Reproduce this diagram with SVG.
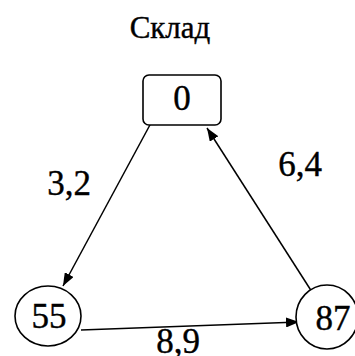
<svg xmlns="http://www.w3.org/2000/svg" width="355" height="356" viewBox="0 0 355 356">
<style>
text{font-family:'Liberation Serif','Times New Roman','DejaVu Serif',serif;fill:#000;stroke:#000;stroke-width:0.4;text-anchor:middle}
.n{font-size:35px}
.l{font-size:35px}
.s{fill:#fff;stroke:#000;stroke-width:1.6}
.e{stroke:#000;stroke-width:1.5;fill:none;marker-end:url(#ah)}
</style>
<defs>
<marker id="ah" viewBox="0 0 13 10" refX="13" refY="5" markerWidth="13" markerHeight="10" markerUnits="userSpaceOnUse" orient="auto">
<path d="M0,0 L13,5 L0,10 Z" fill="#000"/>
</marker>
</defs>
<rect width="355" height="356" fill="#fff"/>
<text x="170" y="38" style="font-size:31px">Склад</text>
<g id="edges">
<line class="e" x1="151" y1="123" x2="63" y2="286"/>
<line class="e" x1="312" y1="292" x2="207" y2="128"/>
<line class="e" x1="81" y1="330" x2="299" y2="322"/>
</g>
<g id="edge-labels">
<text class="l" x="69" y="195">3,2</text>
<text class="l" x="300" y="176">6,4</text>
<text class="l" x="178" y="353">8,9</text>
</g>
<g id="node-0">
<rect class="s" x="143" y="75" width="78" height="50" rx="6"/>
<text class="n" x="182" y="110">0</text>
</g>
<g id="node-55">
<ellipse class="s" cx="48" cy="316" rx="33" ry="30"/>
<text class="n" x="49" y="328">55</text>
</g>
<g id="node-87">
<ellipse class="s" cx="327" cy="317" rx="31" ry="32"/>
<text class="n" x="333" y="330">87</text>
</g>
</svg>
